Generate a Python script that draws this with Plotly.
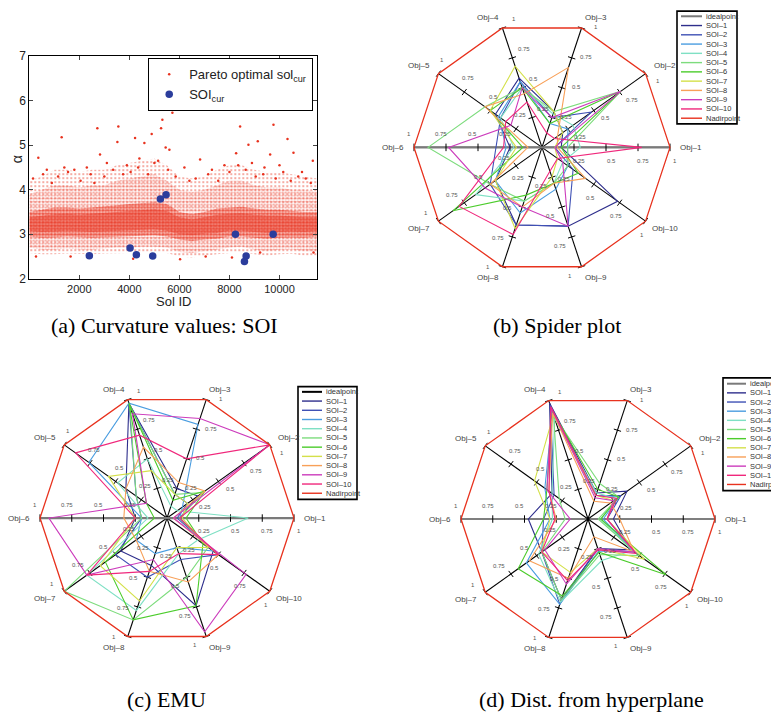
import numpy as np
import plotly.graph_objects as go

W, H = 779, 722
OFF = 8  # page body margin of the html page
SANS = "Liberation Sans"
SERIF = "Liberation Serif"
RED = "#e8321e"

# ---------------- Panel (a): curvature values ----------------
env_x = [0, 500, 1000, 1500, 2000, 2500, 3000, 3500, 4000, 4500, 5000, 5500,
         6000, 6500, 7000, 7500, 8000, 8500, 9000, 9500, 10000, 10500, 11000, 11500]
inner_lo = [3.08, 3.05, 3.06, 3.08, 3.07, 3.05, 3.06, 3.08, 3.09, 3.10, 3.11, 3.08,
            3.00, 2.98, 3.01, 3.03, 3.08, 3.08, 3.05, 3.03, 3.05, 3.06, 3.05, 3.08]
inner_hi = [3.38, 3.42, 3.45, 3.46, 3.44, 3.46, 3.48, 3.50, 3.52, 3.55, 3.56, 3.52,
            3.38, 3.33, 3.38, 3.44, 3.46, 3.47, 3.44, 3.42, 3.42, 3.40, 3.38, 3.38]
core_lo = [2.95, 2.92, 2.93, 2.95, 2.94, 2.92, 2.93, 2.95, 2.95, 2.97, 2.98, 2.95,
           2.88, 2.85, 2.88, 2.90, 2.95, 2.95, 2.92, 2.90, 2.92, 2.93, 2.92, 2.95]
core_hi = [3.50, 3.55, 3.60, 3.60, 3.58, 3.60, 3.62, 3.65, 3.68, 3.70, 3.72, 3.68,
           3.50, 3.45, 3.50, 3.58, 3.60, 3.62, 3.58, 3.55, 3.55, 3.52, 3.50, 3.50]
outer_lo = [2.70, 2.65, 2.65, 2.68, 2.66, 2.65, 2.68, 2.70, 2.70, 2.72, 2.72, 2.70,
            2.60, 2.58, 2.62, 2.65, 2.70, 2.72, 2.65, 2.62, 2.65, 2.66, 2.62, 2.62]
outer_hi = [3.90, 4.00, 4.10, 4.10, 4.05, 4.10, 4.10, 4.20, 4.25, 4.30, 4.35, 4.20,
            4.00, 3.95, 4.00, 4.10, 4.20, 4.20, 4.10, 4.05, 4.05, 4.00, 4.00, 3.95]
halo_lo = [2.58, 2.55, 2.55, 2.57, 2.56, 2.55, 2.57, 2.58, 2.58, 2.60, 2.60, 2.58,
           2.50, 2.48, 2.52, 2.55, 2.58, 2.60, 2.55, 2.52, 2.55, 2.56, 2.52, 2.52]
halo_hi = [4.20, 4.30, 4.45, 4.45, 4.40, 4.45, 4.45, 4.55, 4.60, 4.65, 4.70, 4.55,
           4.30, 4.25, 4.30, 4.45, 4.55, 4.55, 4.45, 4.40, 4.40, 4.35, 4.30, 4.25]
out_x = [360, 1293, 2720, 3560, 3520, 4227, 4600, 5227, 5267, 5320, 5720, 4893,
         8427, 8760, 9133, 9760, 10320, 8267, 10560, 11333, 9627, 2827, 6827, 1400,
         1800, 3100, 3900, 4400, 5000, 5600, 6200, 7300, 7800, 8900, 9400, 10000,
         10900, 700, 2300, 267, 6027, 9227, 11360, 1650, 4150, 7050, 8100, 5450,
         150, 550, 900, 1150, 1550, 2050, 2450, 2600, 3000, 3350, 3750, 4050,
         4350, 4750, 5150, 5550, 5850, 6400, 6650, 7150, 7550, 8000, 8350, 8650,
         9050, 9350, 9850, 10150, 10450, 10750, 11050, 11250]
out_y = [4.72, 5.18, 5.38, 5.42, 5.07, 5.16, 5.05, 6.06, 5.38, 5.57, 5.73, 5.25,
         5.42, 5.01, 5.09, 5.46, 5.14, 4.82, 4.83, 4.65, 4.79, 4.79, 4.68, 4.50,
         4.45, 4.60, 4.55, 4.70, 4.60, 4.90, 4.50, 4.45, 4.55, 4.60, 4.50, 4.55,
         4.40, 4.45, 4.50, 2.50, 2.44, 2.59, 2.59, 2.50, 2.45, 2.50, 2.48, 4.95,
         4.25, 4.35, 4.15, 4.30, 4.40, 4.20, 4.35, 4.15, 4.30, 4.45, 4.35, 4.40,
         4.50, 4.35, 4.65, 4.45, 4.30, 4.20, 4.25, 4.35, 4.20, 4.40, 4.55, 4.45,
         4.30, 4.35, 4.25, 4.40, 4.20, 4.30, 4.25, 4.15]
soi_x = [2400, 4027, 4280, 4933, 5240, 5467, 8240, 8600, 8667, 9747]
soi_y = [2.52, 2.69, 2.54, 2.51, 3.79, 3.89, 3.00, 2.39, 2.51, 3.00]
x_ticks = [2000, 4000, 6000, 8000, 10000]
x_tick_text = ["2000", "4000", "6000", "8000", "10000"]
y_ticks = [2, 3, 4, 5, 6, 7]

# ---------------- Spider plots ----------------
objectives = ["Obj–1", "Obj–2", "Obj–3", "Obj–4", "Obj–5",
              "Obj–6", "Obj–7", "Obj–8", "Obj–9", "Obj–10"]
soi_names = ["SOI–1", "SOI–2", "SOI–3", "SOI–4", "SOI–5",
             "SOI–6", "SOI–7", "SOI–8", "SOI–9", "SOI–10"]
soi_colors = ["#2e2e8c", "#3f51b5", "#4a9de0", "#7fe0c4", "#7ddc7d",
              "#4ccc2c", "#d4e04a", "#f8a058", "#cc3cbc", "#f0287c"]
tick_values = [0.25, 0.5, 0.75, 1.0]
tick_labels = ["0.25", "0.5", "0.75", "1"]

spider_b = [
    [0.15, 0.20, 0.30, 0.58, 0.45, 0.25, 0.45, 0.65, 0.66, 0.73],
    [0.10, 0.48, 0.25, 0.55, 0.40, 0.36, 0.50, 0.65, 0.66, 0.30],
    [0.20, 0.25, 0.20, 0.55, 0.42, 0.28, 0.45, 0.55, 0.35, 0.25],
    [0.30, 0.30, 0.28, 0.50, 0.40, 0.22, 0.64, 0.45, 0.30, 0.20],
    [0.20, 0.76, 0.30, 0.50, 0.55, 0.89, 0.50, 0.45, 0.30, 0.25],
    [0.15, 0.76, 0.20, 0.50, 0.50, 0.15, 0.86, 0.40, 0.30, 0.35],
    [0.10, 0.20, 0.30, 0.68, 0.50, 0.20, 0.45, 0.68, 0.25, 0.15],
    [0.12, 0.15, 0.67, 0.45, 0.55, 0.11, 0.50, 0.50, 0.30, 0.42],
    [0.10, 0.76, 0.25, 0.50, 0.30, 0.73, 0.55, 0.50, 0.66, 0.20],
    [0.78, 0.12, 0.12, 0.38, 0.35, 0.30, 0.80, 0.73, 0.20, 0.15],
]
spider_c = [
    [0.10, 0.30, 0.25, 0.97, 0.40, 0.25, 0.45, 0.40, 0.74, 0.45],
    [0.08, 0.20, 0.20, 0.97, 0.30, 0.20, 0.50, 0.50, 0.35, 0.50],
    [0.10, 0.15, 0.79, 0.97, 0.76, 0.20, 0.30, 0.30, 0.25, 0.45],
    [0.64, 0.10, 0.10, 0.50, 0.48, 0.15, 0.78, 0.78, 0.30, 0.30],
    [0.10, 0.35, 0.20, 0.95, 0.30, 0.20, 1.00, 0.86, 0.50, 0.40],
    [0.15, 0.37, 0.15, 0.97, 0.20, 0.10, 0.60, 0.86, 0.74, 0.35],
    [0.12, 0.20, 0.20, 0.40, 0.57, 0.25, 0.65, 0.70, 0.25, 0.40],
    [0.05, 0.37, 0.30, 0.60, 0.40, 0.34, 0.30, 0.45, 0.54, 0.50],
    [0.05, 1.00, 0.84, 0.88, 0.20, 0.93, 0.78, 0.35, 0.96, 0.77],
    [0.10, 1.00, 0.50, 0.70, 0.89, 0.25, 0.78, 0.45, 0.30, 0.50],
]
spider_d = [
    [0.20, 0.38, 0.22, 0.98, 0.35, 0.47, 0.45, 0.68, 0.25, 0.42],
    [0.15, 0.32, 0.20, 0.96, 0.33, 0.35, 0.45, 0.72, 0.25, 0.45],
    [0.12, 0.30, 0.20, 0.90, 0.42, 0.30, 0.60, 0.72, 0.27, 0.45],
    [0.10, 0.28, 0.22, 0.85, 0.35, 0.28, 0.48, 0.70, 0.35, 0.43],
    [0.08, 0.30, 0.30, 0.88, 0.28, 0.18, 0.45, 0.68, 0.30, 0.50],
    [0.10, 0.30, 0.25, 0.92, 0.40, 0.35, 0.68, 0.65, 0.28, 0.76],
    [0.15, 0.25, 0.20, 0.88, 0.52, 0.30, 0.45, 0.45, 0.25, 0.55],
    [0.25, 0.22, 0.15, 0.90, 0.38, 0.25, 0.57, 0.50, 0.15, 0.45],
    [0.15, 0.25, 0.18, 0.93, 0.40, 0.14, 0.42, 0.55, 0.25, 0.45],
    [0.15, 0.28, 0.20, 0.95, 0.38, 0.26, 0.45, 0.52, 0.26, 0.47],
]
nadir = [1.0] * 10

captions = ["(a) Curvature values: SOI", "(b) Spider plot", "(c) EMU",
            "(d) Dist. from hyperplane"]


def pxx(x):
    return (x - OFF) / W


def pxy(y):
    return 1 - (y - OFF) / H


fig = go.Figure()
shapes = []
annotations = []

# ---- panel (a) traces: dense point cloud drawn as dotted bands
band_styles = [
    (halo_lo, halo_hi, "rgba(0,0,0,0)", 4, 0.22),
    (outer_lo, outer_hi, "rgba(0,0,0,0)", 3, 0.42),
    (core_lo, core_hi, "rgba(232,50,30,0.28)", 3, 0.5),
    (inner_lo, inner_hi, "rgba(232,50,30,0.25)", 2, 0.5),
]
for lo, hi, bg, size, sol in band_styles:
    fig.add_trace(go.Scatter(
        x=env_x + env_x[::-1], y=hi + lo[::-1], fill="toself", mode="lines",
        line=dict(width=0, color="rgba(0,0,0,0)"), fillcolor=bg,
        fillpattern=dict(shape=".", fgcolor=RED, bgcolor=bg, size=size, solidity=sol),
        showlegend=False, hoverinfo="skip", xaxis="x", yaxis="y"))
fig.add_trace(go.Scatter(
    x=out_x, y=out_y, mode="markers", name="Pareto optimal sol<sub>cur</sub>",
    marker=dict(color=RED, size=2.5), xaxis="x", yaxis="y"))
fig.add_trace(go.Scatter(
    x=soi_x, y=soi_y, mode="markers", name="SOI<sub>cur</sub>",
    marker=dict(color="#2b3d9c", size=7.5), xaxis="x", yaxis="y"))


def add_spider(idx, cx, cy, R, data, horiz_gray, box, lx, tx, ly0, ldy, ideal_legend_col):
    xa, ya = f"x{idx}", f"y{idx}"
    half = 1.25
    x0p = max(OFF, cx - half * R)
    x1p = cx + half * R
    ytop = max(OFF, cy - half * R)
    ybot = cy + half * R
    fig.layout[f"xaxis{idx}"] = dict(domain=[pxx(x0p), pxx(x1p)],
                                    range=[-(cx - x0p) / R, (x1p - cx) / R],
                                    visible=False, anchor=ya, fixedrange=True)
    fig.layout[f"yaxis{idx}"] = dict(domain=[pxy(ybot), pxy(ytop)],
                                    range=[-(ybot - cy) / R, (cy - ytop) / R],
                                    visible=False, anchor=xa, fixedrange=True)
    theta = np.deg2rad(np.arange(10) * 36.0)
    c, s = np.cos(theta), np.sin(theta)
    # spokes
    sx, sy = [], []
    for k in range(10):
        sx += [0, c[k], None]
        sy += [0, s[k], None]
    fig.add_trace(go.Scatter(x=sx, y=sy, mode="lines", line=dict(color="black", width=1.1),
                             xaxis=xa, yaxis=ya, showlegend=False, hoverinfo="skip"))
    if horiz_gray:
        fig.add_trace(go.Scatter(x=[-1, 1], y=[0, 0], mode="lines",
                                 line=dict(color="#7a7a7a", width=2.2),
                                 xaxis=xa, yaxis=ya, showlegend=False, hoverinfo="skip"))
    # tick marks
    tx_, ty_ = [], []
    for k in range(10):
        for r in tick_values:
            px_, py_ = r * c[k], r * s[k]
            dx, dy = -s[k] * 0.03, c[k] * 0.03
            tx_ += [px_ - dx, px_ + dx, None]
            ty_ += [py_ - dy, py_ + dy, None]
    fig.add_trace(go.Scatter(x=tx_, y=ty_, mode="lines", line=dict(color="black", width=1),
                             xaxis=xa, yaxis=ya, showlegend=False, hoverinfo="skip"))
    cc = np.append(c, c[0])
    ss = np.append(s, s[0])
    # SOI polygons
    for i, vals in enumerate(data):
        v = np.array(vals + vals[:1])
        fig.add_trace(go.Scatter(x=v * cc, y=v * ss, mode="lines", name=soi_names[i],
                                 line=dict(color=soi_colors[i], width=1.1),
                                 xaxis=xa, yaxis=ya, showlegend=False))
    v = np.array(nadir + nadir[:1])
    fig.add_trace(go.Scatter(x=v * cc, y=v * ss, mode="lines", name="Nadirpoint",
                             line=dict(color=RED, width=1.3),
                             xaxis=xa, yaxis=ya, showlegend=False))
    # tick labels
    for k in range(10):
        for r, lab in zip(tick_values, tick_labels):
            px_ = (r + 0.04) * c[k] + 0.105 * s[k]
            py_ = (r + 0.04) * s[k] - 0.105 * c[k]
            annotations.append(dict(x=px_, y=py_, xref=xa, yref=ya, text=lab,
                                    xanchor="center", yanchor="middle",
                                    showarrow=False, font=dict(family=SANS, size=6, color="#555")))
    # objective labels
    for k in range(10):
        sgnc = 0 if abs(c[k]) < 0.2 else np.sign(c[k])
        sgns = 0 if abs(s[k]) < 0.2 else np.sign(s[k])
        xs = 10 * c[k] + 11 * sgnc
        ys = 8 * s[k] + 3 * sgns
        annotations.append(dict(x=c[k], y=s[k], xref=xa, yref=ya, text=objectives[k],
                                showarrow=False, xshift=xs, yshift=ys,
                                xanchor="center", yanchor="middle",
                                font=dict(family=SANS, size=8, color="#444")))
    # legend drawn as box + line samples + texts
    bx0, by0, bx1, by1 = box
    shapes.append(dict(type="rect", xref="paper", yref="paper", x0=pxx(bx0), x1=pxx(bx1),
                       y0=pxy(by1), y1=pxy(by0), line=dict(color="black", width=1.6),
                       fillcolor="white", layer="above"))
    names = ["idealpoint"] + soi_names + ["Nadirpoint"]
    cols = [ideal_legend_col] + soi_colors + [RED]
    widths = [2.0] + [1.4] * 10 + [1.4]
    for j, (nm, col, wd) in enumerate(zip(names, cols, widths)):
        yy = ly0 + j * ldy
        shapes.append(dict(type="line", xref="paper", yref="paper", x0=pxx(lx[0]), x1=pxx(lx[1]),
                           y0=pxy(yy), y1=pxy(yy), line=dict(color=col, width=wd), layer="above"))
        annotations.append(dict(x=pxx(tx), y=pxy(yy), xref="paper", yref="paper", text=nm,
                                showarrow=False, xanchor="left", yanchor="middle",
                                font=dict(family=SANS, size=7.5, color="#333")))


add_spider(2, 542, 143, 128, spider_b, True, (677, 4, 737, 119), (681, 702), 704, 9.3, 9.45, "#7a7a7a")
add_spider(3, 167, 521, 127, spider_c, True, (298, 387, 357, 502), (302, 322), 324, 392.3, 9.4, "black")
add_spider(4, 588, 522, 127, spider_d, False, (723, 378, 792, 493), (727, 746), 748.3, 384, 9.34, "#7a7a7a")

# captions
for txt, (cxp, cyp) in zip(captions, [(164, 325), (557, 325), (166, 706), (591, 706)]):
    annotations.append(dict(x=pxx(cxp), y=pxy(cyp), xref="paper", yref="paper", text=txt,
                            xanchor="center", yanchor="middle",
                            showarrow=False, font=dict(family=SERIF, size=22, color="black")))

# axis titles of panel (a)
annotations.append(dict(x=pxx(173), y=pxy(300), xref="paper", yref="paper", text="Sol ID",
                        xanchor="center", yanchor="middle", showarrow=False,
                        font=dict(family=SANS, size=13, color="#222")))
annotations.append(dict(x=pxx(17), y=pxy(155), xref="paper", yref="paper", text="α",
                        xanchor="center", yanchor="middle", showarrow=False, textangle=-90,
                        font=dict(family=SANS, size=14, color="#222")))

fig.update_layout(
    width=W, height=H, autosize=False, margin=dict(l=0, r=0, t=0, b=0),
    paper_bgcolor="white", plot_bgcolor="white",
    xaxis=dict(domain=[pxx(29.3), pxx(317)], range=[0, 11500], tickvals=x_ticks,
               ticktext=x_tick_text,
               ticks="inside", ticklen=4, mirror="ticks", showline=True, linecolor="black",
               linewidth=1, showgrid=False, zeroline=False,
               tickfont=dict(family=SANS, size=11, color="#222"), anchor="y"),
    yaxis=dict(domain=[pxy(277), pxy(50)], range=[2, 7], tickvals=y_ticks,
               ticks="inside", ticklen=4, mirror="ticks", showline=True, linecolor="black",
               linewidth=1, showgrid=False, zeroline=False,
               tickfont=dict(family=SANS, size=12, color="#222"), anchor="x"),
    legend=dict(x=pxx(313), xanchor="right", y=pxy(52), yanchor="top", bgcolor="white",
                bordercolor="black", borderwidth=1.2, itemwidth=30,
                font=dict(family=SANS, size=13, color="#222")),
    shapes=shapes, annotations=annotations, showlegend=True,
)

fig.write_html("out.html")
